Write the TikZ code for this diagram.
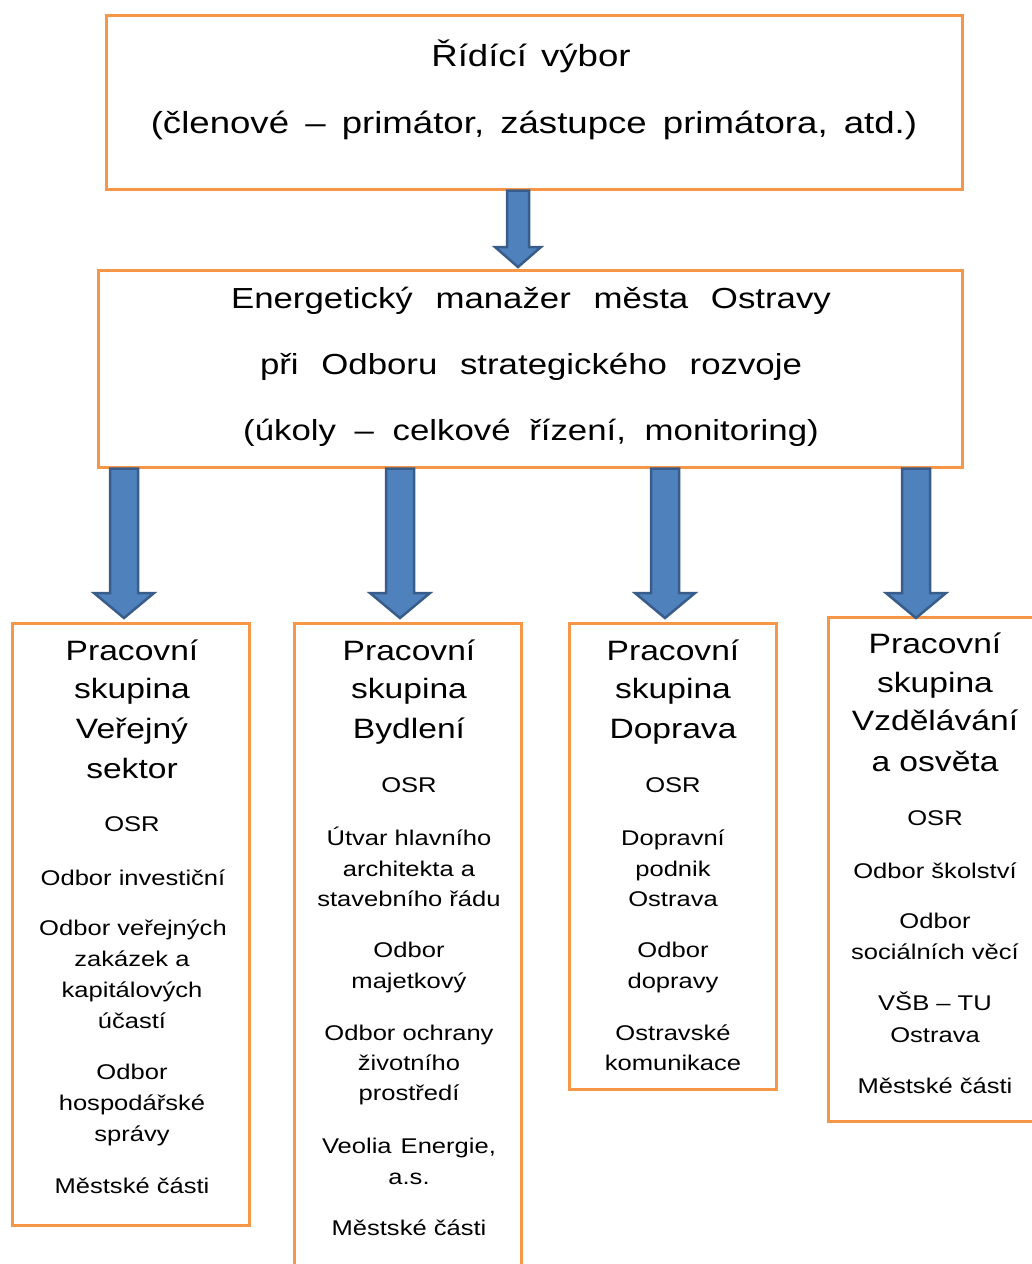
\documentclass[tikz,border=0pt]{standalone}
\usepackage{fontspec}
\setmainfont[FakeStretch=1.2]{Liberation Sans}
\usetikzlibrary{calc}
\definecolor{orgline}{HTML}{F79646}
\definecolor{arrfill}{HTML}{4F81BD}
\definecolor{arrline}{HTML}{385D8A}
\tikzset{
  obox/.style={draw=orgline, line width=3pt, fill=white, inner sep=0pt},
  barrow/.style={fill=arrfill, draw=arrline, line width=2.5pt, line join=miter},
  ttl/.style={font=\fontsize{30.5}{36}\selectfont, anchor=base, inner sep=0pt},
  mgr/.style={font=\fontsize{29}{34}\selectfont, anchor=base, inner sep=0pt},
  hdr/.style={font=\fontsize{28}{34}\selectfont, anchor=base, inner sep=0pt},
  itm/.style={font=\fontsize{21.3}{26}\selectfont, anchor=base, inner sep=0pt},
}
\newcommand\wsA{\hspace{6pt} }
\newcommand\wsB{\hspace{13pt} }
\newcommand\wsC{\hspace{9pt} }
% #1 start, #2 tip, #3 shaft half width, #4 head half width, #5 head length
\newcommand\blkarrow[5]{%
  \path[barrow] let \p1=(#1), \p2=(#2) in
    (\x1-#3,\y1) -- (\x1-#3,\y2+#5) -- (\x1-#4,\y2+#5) -- (\x2,\y2)
    -- (\x1+#4,\y2+#5) -- (\x1+#3,\y2+#5) -- (\x1+#3,\y1) -- cycle;}
\begin{document}
\begin{tikzpicture}[x=1pt,y=-1pt]
\useasboundingbox (0,0) rectangle (1032,1264);
\clip (0,0) rectangle (1032,1264);
\fill[white] (0,0) rectangle (1032,1264);

% boxes
\node[obox, minimum width=856pt, minimum height=174pt] (top) at (534,102) {};
\node[obox, minimum width=864pt, minimum height=197pt] (mid) at (530,368.5) {};
\node[obox, minimum width=237pt, minimum height=602pt] (b1) at (130.5,924) {};
\node[obox, minimum width=227pt, minimum height=657pt] (b2) at (407.5,951.5) {};
\node[obox, minimum width=207pt, minimum height=466pt] (b3) at (672.5,856) {};
\node[obox, minimum width=217pt, minimum height=504pt] (b4) at (936.5,869) {};

% arrow tips
\coordinate (t0) at (518,267);
\coordinate (t1) at (124,618);
\coordinate (t2) at (400,618);
\coordinate (t3) at (665,618);
\coordinate (t4) at (916,618);

\blkarrow{top.south -| t0}{t0}{11pt}{23pt}{20pt}
\blkarrow{mid.south -| t1}{t1}{14pt}{30pt}{25pt}
\blkarrow{mid.south -| t2}{t2}{14pt}{30pt}{25pt}
\blkarrow{mid.south -| t3}{t3}{14pt}{30pt}{25pt}
\blkarrow{mid.south -| t4}{t4}{14pt}{30pt}{25pt}

% top box text
\node[ttl] (tt1) at (531,66) {Řídící\hspace{4pt} výbor};
\node[ttl] (tt2) at (534,133) {(členové\wsA –\wsA primátor,\wsA zástupce\wsA primátora,\wsA atd.)};

% manager box text
\node[mgr] (mt1) at (531,308) {Energetický\wsB manažer\wsB města\wsB Ostravy};
\node[mgr] (mt2) at (531,374) {při\wsB Odboru\wsB strategického\wsB rozvoje};
\node[mgr] (mt3) at (531,440) {(úkoly\wsC –\wsC celkové\wsC řízení,\wsC monitoring)};

% box 1
\node[hdr] (h11) at (132,660) {Pracovní};
\node[hdr] (h12) at (132,698) {skupina};
\node[hdr] (h13) at (132,738) {Veřejný};
\node[hdr] (h14) at (132,778) {sektor};
\node[itm] (i11) at (132,831) {OSR};
\node[itm] (i12) at (133,885) {Odbor investiční};
\node[itm] (i13) at (133,935) {Odbor veřejných};
\node[itm] (i14) at (132,966) {zakázek a};
\node[itm] (i15) at (132,997) {kapitálových};
\node[itm] (i16) at (132,1028) {účastí};
\node[itm] (i17) at (132,1079) {Odbor};
\node[itm] (i18) at (132,1110) {hospodářské};
\node[itm] (i19) at (132,1141) {správy};
\node[itm] (i110) at (132,1193) {Městské části};

% box 2
\node[hdr] (h21) at (409,660) {Pracovní};
\node[hdr] (h22) at (409,698) {skupina};
\node[hdr] (h23) at (409,738) {Bydlení};
\node[itm] (i21) at (409,792) {OSR};
\node[itm] (i22) at (409,845) {Útvar hlavního};
\node[itm] (i23) at (409,876) {architekta a};
\node[itm] (i24) at (409,906) {stavebního řádu};
\node[itm] (i25) at (409,957) {Odbor};
\node[itm] (i26) at (409,988) {majetkový};
\node[itm] (i27) at (409,1040) {Odbor ochrany};
\node[itm] (i28) at (409,1070) {životního};
\node[itm] (i29) at (409,1100) {prostředí};
\node[itm] (i210) at (409,1153) {Veolia\hspace{2pt} Energie,};
\node[itm] (i211) at (409,1184) {a.s.};
\node[itm] (i212) at (409,1235) {Městské části};

% box 3
\node[hdr] (h31) at (673,660) {Pracovní};
\node[hdr] (h32) at (673,698) {skupina};
\node[hdr] (h33) at (673,738) {Doprava};
\node[itm] (i31) at (673,792) {OSR};
\node[itm] (i32) at (673,845) {Dopravní};
\node[itm] (i33) at (673,876) {podnik};
\node[itm] (i34) at (673,906) {Ostrava};
\node[itm] (i35) at (673,957) {Odbor};
\node[itm] (i36) at (673,988) {dopravy};
\node[itm] (i37) at (673,1040) {Ostravské};
\node[itm] (i38) at (673,1070) {komunikace};

% box 4
\node[hdr] (h41) at (935,653) {Pracovní};
\node[hdr] (h42) at (935,692) {skupina};
\node[hdr] (h43) at (935,730) {Vzdělávání};
\node[hdr] (h44) at (935,771) {a osvěta};
\node[itm] (i41) at (935,825) {OSR};
\node[itm] (i42) at (935,878) {Odbor školství};
\node[itm] (i43) at (935,928) {Odbor};
\node[itm] (i44) at (935,959) {sociálních věcí};
\node[itm] (i45) at (935,1010) {VŠB – TU};
\node[itm] (i46) at (935,1042) {Ostrava};
\node[itm] (i47) at (935,1093) {Městské části};
\end{tikzpicture}
\end{document}
